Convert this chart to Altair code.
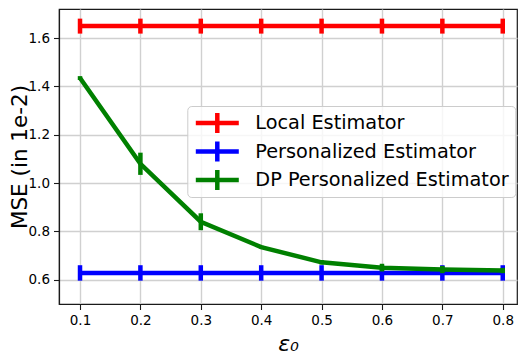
import altair as alt
import pandas as pd

eps = [0.1, 0.2, 0.3, 0.4, 0.5, 0.6, 0.7, 0.8]
series_names = ["Local Estimator", "Personalized Estimator", "DP Personalized Estimator"]
series_colors = ["#ff0000", "#0000ff", "#008000"]

local_mse = [1.65, 1.65, 1.65, 1.65, 1.65, 1.65, 1.65, 1.65]
local_err = [0.031, 0.031, 0.031, 0.031, 0.031, 0.031, 0.031, 0.031]
pers_mse = [0.628, 0.628, 0.628, 0.628, 0.628, 0.628, 0.628, 0.628]
pers_err = [0.032, 0.032, 0.032, 0.032, 0.032, 0.032, 0.032, 0.032]
dp_mse = [1.435, 1.08, 0.84, 0.735, 0.672, 0.65, 0.642, 0.638]
dp_err = [0.008, 0.046, 0.035, 0.006, 0.009, 0.016, 0.015, 0.011]

y_ticks = [0.6, 0.8, 1.0, 1.2, 1.4, 1.6]

rows = []
for name, vals, errs in zip(series_names, [local_mse, pers_mse, dp_mse], [local_err, pers_err, dp_err]):
    for e, v, d in zip(eps, vals, errs):
        rows.append({"series": name, "eps": e, "mse": v, "lo": v - d, "hi": v + d})
df = pd.DataFrame(rows)

FONT = "DejaVu Sans"

x_axis = alt.Axis(values=eps, format=".1f", title="ε₀", titleFontSize=22, titleFontStyle="italic",
                  titleFontWeight="normal", titlePadding=6)
y_axis = alt.Axis(values=y_ticks, format=".1f", title="MSE (in 1e-2)", titleFontSize=21.5,
                  titleFontWeight="normal", titleX=-50, titleBaseline="top", titleAngle=270)
x_scale = alt.Scale(domain=[0.0652, 0.8236], nice=False, zero=False)
y_scale = alt.Scale(domain=[0.4994, 1.7209], nice=False, zero=False)

color = alt.Color(
    "series:N",
    sort=series_names,
    scale=alt.Scale(domain=series_names, range=series_colors),
    legend=alt.Legend(
        title=None,
        orient="none",
        legendX=128.3,
        legendY=97,
        symbolType="M-1,0H1M0,-0.47V0.47",
        symbolSize=1849,
        symbolStrokeWidth=4.5,
        symbolOpacity=1,
        labelFontSize=19.3,
        labelFont=FONT,
        labelColor="#000000",
        labelOffset=14,
        labelLimit=400,
        clipHeight=22,
        rowPadding=6.5,
        padding=6,
        fillColor="rgba(255,255,255,0.8)",
        strokeColor="#cccccc",
        cornerRadius=4,
    ),
)

layers = []
for name in series_names:
    base = alt.Chart(df).transform_filter(alt.datum.series == name)
    line = base.mark_line(strokeWidth=4.5).encode(
        x=alt.X("eps:Q", scale=x_scale, axis=x_axis),
        y=alt.Y("mse:Q", scale=y_scale, axis=y_axis),
        color=color,
    )
    err = base.mark_rule(strokeWidth=4.5).encode(
        x=alt.X("eps:Q", scale=x_scale, axis=x_axis),
        y=alt.Y("lo:Q", scale=y_scale, axis=y_axis),
        y2="hi:Q",
        color=color,
    )
    layers += [line, err]

chart = alt.layer(*layers).properties(
    width=458,
    height=295,
    autosize=alt.AutoSizeParams(type="none"),
    padding={"left": 51, "top": 1, "right": 1, "bottom": 51},
).configure_view(
    stroke="#1a1a1a", strokeWidth=1.2
).configure_axis(
    labelFont=FONT, titleFont=FONT, labelFontSize=13.5, labelColor="#000000", titleColor="#000000",
    tickColor="#1a1a1a", tickSize=5.5, tickWidth=1.1, labelPadding=4,
    domain=True, domainColor="#1a1a1a", domainWidth=1.2,
    grid=True, gridColor="#d0d0d0", gridWidth=1.4,
).configure_legend(
    labelFont=FONT
)

chart.save("out.html", embed_options={"renderer": "svg", "actions": False})
